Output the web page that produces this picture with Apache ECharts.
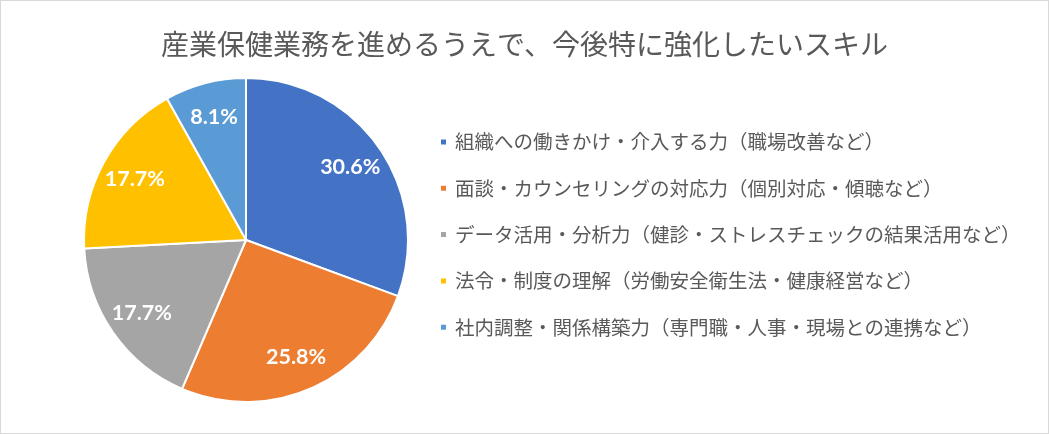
<!DOCTYPE html>
<html>
<head>
<meta charset="utf-8">
<script src="https://cdn.jsdelivr.net/npm/echarts@6/dist/echarts.min.js"></script>
<style>
  html, body { margin: 0; padding: 0; background: #fff; }
  #chart { width: 1049px; height: 434px; box-sizing: border-box; border: 1px solid #d9d9d9; }
</style>
</head>
<body>
<div id="chart"></div>
<script>
// データ
var titleText = '産業保健業務を進めるうえで、今後特に強化したいスキル';
var categories = [
  '組織への働きかけ・介入する力（職場改善など）',
  '面談・カウンセリングの対応力（個別対応・傾聴など）',
  'データ活用・分析力（健診・ストレスチェックの結果活用など）',
  '法令・制度の理解（労働安全衛生法・健康経営など）',
  '社内調整・関係構築力（専門職・人事・現場との連携など）'
];
var shares = [30.6, 25.8, 17.7, 17.7, 8.1];
var colors = ['#4472C4', '#ED7D31', '#A5A5A5', '#FFC000', '#5B9BD5'];

var pieData = categories.map(function (name, i) {
  return { name: name, value: shares[i] };
});

var myChart = echarts.init(document.getElementById('chart'));

var option = {
  animation: false,
  color: colors,
  title: {
    text: titleText,
    left: 'center',
    top: 24,
    textStyle: {
      fontFamily: 'Noto Sans CJK JP',
      fontSize: 28,
      fontWeight: 'normal',
      color: '#595959'
    }
  },
  legend: {
    orient: 'vertical',
    left: 433,
    top: 126,
    icon: 'rect',
    itemWidth: 7,
    itemHeight: 7,
    itemGap: 26.3,
    data: categories,
    textStyle: {
      fontFamily: 'Noto Sans CJK JP',
      fontSize: 19.5,
      lineHeight: 20,
      color: '#595959',
      padding: [0, 0, 0, 3]
    }
  },
  series: [
    {
      // 本体の円グラフ
      type: 'pie',
      center: [245, 239],
      radius: [0, 162],
      startAngle: 90,
      clockwise: true,
      silent: true,
      label: { show: false },
      labelLine: { show: false },
      itemStyle: { borderColor: '#fff', borderWidth: 2 },
      data: pieData
    },
    {
      // ラベルだけの円（ラベル位置を外側寄りにするため）
      type: 'pie',
      center: [245, 239],
      radius: [86, 162],
      startAngle: 90,
      clockwise: true,
      silent: true,
      itemStyle: { color: 'rgba(0,0,0,0)' },
      label: {
        show: true,
        position: 'inside',
        formatter: function (p) { return p.value.toFixed(1) + '%'; },
        fontFamily: 'Lato',
        fontWeight: 'bold',
        fontSize: 21.5,
        color: '#fff'
      },
      labelLine: { show: false },
      data: pieData
    }
  ]
};

myChart.setOption(option);
</script>
</body>
</html>
